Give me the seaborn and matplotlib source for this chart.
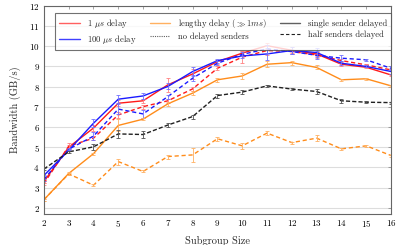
import numpy as np
import pandas as pd
import seaborn as sns
import matplotlib.pyplot as plt
from matplotlib.lines import Line2D

sizes = np.arange(2, 17)

# bandwidth (GB/s) per subgroup size
red_single = [3.3, 5.0, 5.95, 7.18, 7.30, 8.09, 8.63, 9.24, 9.66, 10.03, 9.80, 9.62, 9.11, 8.96, 8.58]
red_half = [3.2, 5.05, 5.45, 6.60, 7.01, 7.30, 7.89, 8.91, 9.46, 9.79, 9.74, 9.57, 9.29, 9.08, 8.83]
blue_single = [3.6, 4.85, 6.19, 7.38, 7.54, 8.01, 8.75, 9.29, 9.52, 9.62, 9.79, 9.69, 9.16, 9.00, 8.75]
blue_half = [3.4, 4.9, 5.55, 6.89, 6.65, 7.51, 8.42, 9.16, 9.60, 9.87, 9.74, 9.55, 9.41, 9.33, 8.91]
orange_single = [2.4, 3.7, 4.68, 6.08, 6.39, 7.15, 7.68, 8.34, 8.53, 9.11, 9.19, 8.95, 8.34, 8.39, 8.04]
orange_half = [2.4, 3.68, 3.12, 4.29, 3.80, 4.54, 4.62, 5.42, 5.07, 5.70, 5.23, 5.45, 4.92, 5.07, 4.59]
no_delay = [3.92, 4.77, 5.02, 5.66, 5.63, 6.10, 6.52, 7.56, 7.73, 8.04, 7.88, 7.76, 7.30, 7.23, 7.21]

red_single_err = [0.05, 0.1, 0.15, 0.15, 0.1, 0.35, 0.25, 0.1, 0.1, 0.15, 0.15, 0.1, 0.1, 0.05, 0.05]
red_half_err = [0.05, 0.15, 0.1, 0.15, 0.1, 0.1, 0.1, 0.1, 0.3, 0.2, 0.1, 0.15, 0.1, 0.05, 0.05]
blue_single_err = [0.05, 0.05, 0.2, 0.2, 0.15, 0.15, 0.2, 0.1, 0.1, 0.3, 0.15, 0.2, 0.1, 0.05, 0.1]
blue_half_err = [0.05, 0.05, 0.2, 0.25, 0.2, 0.1, 0.15, 0.1, 0.1, 0.2, 0.1, 0.2, 0.15, 0.05, 0.1]
orange_single_err = [0.05, 0.05, 0.05, 0.3, 0.05, 0.1, 0.1, 0.1, 0.15, 0.15, 0.1, 0.1, 0.05, 0.05, 0.05]
orange_half_err = [0.05, 0.05, 0.05, 0.15, 0.05, 0.1, 0.35, 0.1, 0.15, 0.1, 0.05, 0.15, 0.05, 0.05, 0.05]
no_delay_err = [0.05, 0.05, 0.15, 0.2, 0.15, 0.1, 0.1, 0.1, 0.1, 0.05, 0.05, 0.1, 0.1, 0.05, 0.05]

series = [
    (red_single, red_single_err, "#ff1a1a", "#ff8080", "-"),
    (red_half, red_half_err, "#ff1a1a", "#ff8080", (0, (3, 2))),
    (blue_single, blue_single_err, "#1a1aff", "#7070ff", "-"),
    (blue_half, blue_half_err, "#1a1aff", "#7070ff", (0, (3, 2))),
    (orange_single, orange_single_err, "#ff8c1a", "#ffb060", "-"),
    (orange_half, orange_half_err, "#ff8c1a", "#ffb060", (0, (3, 2))),
    (no_delay, no_delay_err, "#202020", "#505050", (0, (3, 1.5))),
]

sns.set_style("whitegrid", {"grid.color": "#dddddd", "axes.edgecolor": "0.4"})
plt.rcParams["font.family"] = ["cmr10", "DejaVu Serif"]
plt.rcParams["mathtext.fontset"] = "cm"
plt.rcParams["axes.formatter.use_mathtext"] = True

fig = plt.figure(figsize=(3.99, 2.45), dpi=100)
ax = fig.add_axes([0.110, 0.127, 0.870, 0.849])

for vals, err, col, ecol, ls in series:
    sns.lineplot(x=sizes, y=vals, color=col, linestyle=ls, linewidth=1.0, ax=ax)
    ax.errorbar(sizes, vals, yerr=err, fmt="none", ecolor=ecol, elinewidth=0.6,
                capsize=1.5, capthick=0.6)

ax.set_xlim(2, 16)
ax.set_ylim(1.7, 12)
ax.set_xticks(sizes)
ax.set_yticks(range(2, 13))
ax.grid(axis="x", visible=False)
ax.tick_params(direction="in", length=2.5, width=0.5, labelsize=6.5, color="0.5",
               top=True, right=True, labelcolor="black", pad=3)
for s in ax.spines.values():
    s.set_linewidth(0.8)
ax.set_xlabel("Subgroup Size", fontsize=7.5, labelpad=5)
ax.set_ylabel("Bandwidth (GB/s)", fontsize=7.5, labelpad=6)

handles = [
    Line2D([], [], color="#ff6060", lw=1.0),
    Line2D([], [], color="#4040ff", lw=1.0),
    Line2D([], [], color="#ffb060", lw=1.0),
    Line2D([], [], color="#606060", lw=0.8, linestyle=(0, (1, 1))),
    Line2D([], [], color="#606060", lw=1.0),
    Line2D([], [], color="#202020", lw=0.8, linestyle=(0, (3, 2))),
]
labels = [r"1 $\mu s$ delay", r"100 $\mu s$ delay", r"lengthy delay ($\gg 1ms$)",
          "no delayed senders", "single sender delayed", "half senders delayed"]
leg = ax.legend(handles, labels, ncol=3, fontsize=6.2, loc="upper left",
                bbox_to_anchor=(0.02, 0.985), frameon=True, fancybox=False,
                handlelength=2.4, columnspacing=1.5, handletextpad=0.9,
                borderpad=0.45, labelspacing=0.3)
leg.get_frame().set_edgecolor("0.3")
leg.get_frame().set_linewidth(0.8)

fig.savefig("out.png", dpi=100)
